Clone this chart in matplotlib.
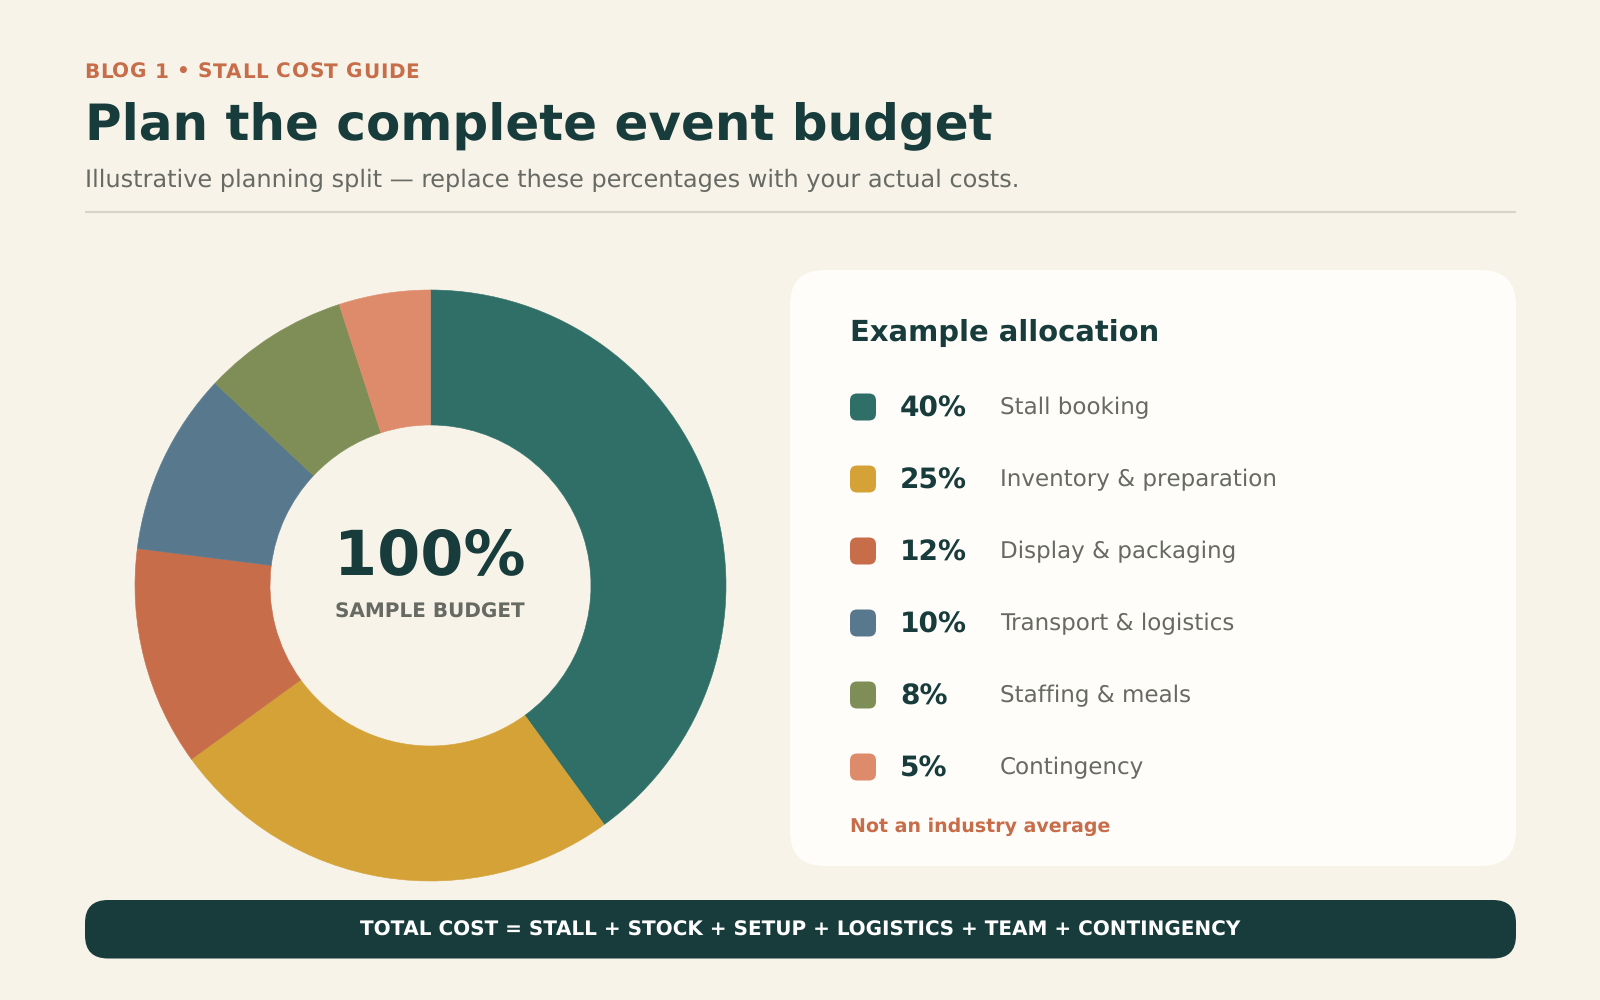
import matplotlib
matplotlib.use("Agg")
import matplotlib.pyplot as plt
from matplotlib.font_manager import FontProperties
from matplotlib.patches import FancyBboxPatch

# chart data
categories = ["Stall booking", "Inventory & preparation", "Display & packaging",
              "Transport & logistics", "Staffing & meals", "Contingency"]
shares = [40, 25, 12, 10, 8, 5]
slice_colors = ["#2F6F68", "#D4A237", "#C76D4A", "#58788E", "#7F8E57", "#DE8B6B"]

BG = "#F7F3E9"
CARD = "#FFFDFA"
DARK = "#173C3B"
GRAY = "#666A63"
ACCENT = "#C76D4A"
RULE = "#D8D4C8"

plt.rcParams["font.family"] = "DejaVu Sans"
plt.rcParams["text.hinting"] = "none"
plt.rcParams["text.hinting_factor"] = 1

fig = plt.figure(figsize=(16, 10), dpi=100, facecolor=BG)
ax = fig.add_axes([0, 0, 1, 1])

# donut, pie resets the limits so they get set afterwards
wedges = ax.pie(shares, colors=slice_colors, startangle=90, counterclock=False,
                center=(430.5, 1000 - 585.5), radius=295.5,
                wedgeprops=dict(width=135))[0]
for w, col in zip(wedges, slice_colors):
    w.set_edgecolor(col)
    w.set_linewidth(0.4)
ax.set_xlim(0, 1600)
ax.set_ylim(0, 1000)
ax.axis("off")


def txt(x, y, s, size, color, weight="normal", ha="left", va="baseline"):
    ax.text(x, 1000 - y, s, fontsize=size, color=color, fontweight=weight, ha=ha, va=va)


def spaced_txt(x, y, s, size, color, weight, spacing):
    # matplotlib has no letter spacing, so place each character on its own
    rend = fig.canvas.get_renderer()
    fp = FontProperties(family="DejaVu Sans", size=size, weight=weight)
    px = lambda t: rend.get_text_width_height_descent(t, fp, False)[0]
    for i, ch in enumerate(s):
        offset = px(s[:i] + ch) - px(ch) + i * spacing
        if ch != " ":
            txt(x + offset, y, ch, size, color, weight)


def rbox(x0, y0, x1, y1, r, color):
    ax.add_patch(FancyBboxPatch((x0, 1000 - y1), x1 - x0, y1 - y0,
                                boxstyle=f"round,pad=0,rounding_size={r}",
                                fc=color, ec="none", lw=0))


# header
spaced_txt(84, 77.5, "BLOG 1 • STALL COST GUIDE", 14.6, ACCENT, "bold", 0.62)
txt(85, 140, "Plan the complete event budget", 36, DARK, "bold")
txt(85, 187, "Illustrative planning split — replace these percentages with your actual costs.", 17.32, GRAY)
ax.plot([85, 1516], [1000 - 212, 1000 - 212], color=RULE, lw=1.5, solid_capstyle="butt")

# centre of the donut
txt(430, 574.5, "100%", 44.3, DARK, "bold", ha="center")
txt(430, 617.5, "SAMPLE BUDGET", 14.4, GRAY, "bold", ha="center")

# legend card
rbox(790, 270, 1516, 866, 35, CARD)
txt(850, 341, "Example allocation", 20.9, DARK, "bold")
for i, (cat, share, col) in enumerate(zip(categories, shares, slice_colors)):
    yc = 407 + i * 72
    rbox(850, yc - 13.5, 876, yc + 13.5, 7, col)
    txt(900, yc - 1, f"{share}%", 19.9, DARK, "bold", va="center_baseline")
    txt(1000, yc - 2, cat, 16.56, GRAY, va="center_baseline")
txt(850, 832, "Not an industry average", 13.68, ACCENT, "bold")

# formula bar
rbox(85, 900, 1516, 958.5, 23, DARK)
txt(800.5, 936, "TOTAL COST = STALL + STOCK + SETUP + LOGISTICS + TEAM + CONTINGENCY", 14.4, "white", "bold", ha="center")

fig.savefig("out.png", dpi=100, facecolor=BG)
